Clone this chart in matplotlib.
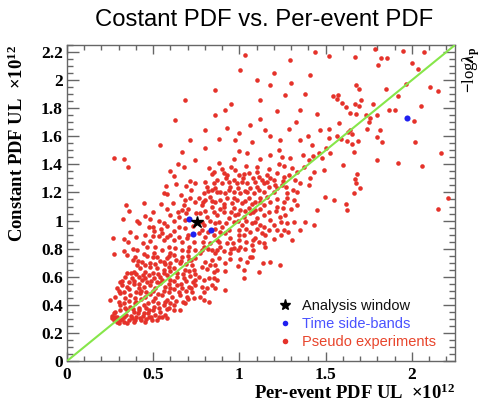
import numpy as np
import matplotlib
matplotlib.use('Agg')
import matplotlib.pyplot as plt
from matplotlib.ticker import MultipleLocator, FuncFormatter
from matplotlib.lines import Line2D

plt.rcParams['mathtext.fontset'] = 'custom'
plt.rcParams['mathtext.rm'] = 'Liberation Serif:bold'
plt.rcParams['mathtext.it'] = 'Liberation Serif:italic:bold'
plt.rcParams['mathtext.bf'] = 'Liberation Serif:bold'

# pseudo experiments (per-event UL, constant UL), units of 1e12
pseudo_pts = [
    # upper right
    (1.523, 1.479), (1.663, 1.491), (1.601, 1.396), (1.798, 1.432), (1.920, 1.413),
    (2.057, 1.391), (2.169, 1.479), (1.680, 1.330), (1.672, 1.296), (1.676, 1.266),
    (1.697, 1.235), (1.667, 1.199), (1.551, 1.147), (1.616, 1.121), (1.624, 1.076),
    (2.210, 1.164), (2.150, 1.080),
    (1.784, 2.218), (1.947, 2.208), (2.073, 2.199), (1.518, 2.173), (1.672, 2.161),
    (1.821, 2.156), (1.854, 2.156), (1.804, 2.106), (2.003, 2.120), (2.036, 2.082),
    (1.968, 1.973), (1.850, 1.935), (2.104, 1.952), (2.150, 1.923), (1.678, 1.964),
    (1.692, 1.940), (1.545, 1.888), (1.572, 1.895), (1.564, 1.869), (1.705, 1.857),
    (1.920, 1.885), (1.593, 1.836), (1.616, 1.807), (1.668, 1.831), (1.696, 1.817),
    (1.773, 1.833), (2.053, 1.817), (1.866, 1.788), (1.900, 1.788), (1.639, 1.764),
    (1.678, 1.760), (1.736, 1.752), (1.800, 1.755), (1.755, 1.733), (1.750, 1.700),
    (2.013, 1.710), (1.578, 1.695), (1.639, 1.646), (1.630, 1.629), (1.653, 1.615),
    (1.742, 1.655), (1.817, 1.646), (1.522, 1.650), (1.566, 1.605), (1.587, 1.584),
    (1.798, 1.596), (1.518, 1.591), (1.624, 1.563), (1.688, 1.563), (1.655, 1.544),
    (1.827, 1.560), (2.020, 1.558),
    # top middle / top left
    (0.858, 1.930), (0.916, 1.788), (1.003, 2.073), (1.061, 1.681), (1.119, 1.859),
    (1.177, 1.966), (1.236, 1.574), (1.294, 2.144), (1.351, 1.788), (1.409, 2.037),
    (1.467, 1.645), (0.974, 1.574), (0.800, 1.645), (1.032, 2.179), (1.148, 1.645),
    (1.351, 1.574), (1.264, 1.895), (0.713, 1.574), (0.626, 1.716), (0.684, 1.859),
    (0.539, 1.538),
    (0.80, 1.52), (0.88, 1.58), (0.93, 1.66), (1.00, 1.62), (1.07, 1.56),
    (1.12, 1.72), (1.18, 1.60), (1.22, 1.78), (1.29, 1.65), (1.33, 1.70),
    (1.40, 1.60), (1.45, 1.76), (1.38, 1.90), (1.30, 1.98), (1.20, 2.05),
    (1.10, 2.00), (0.95, 1.83), (0.86, 1.75), (1.44, 2.20), (1.50, 1.52),
    (1.42, 1.54), (1.46, 1.48),
    # middle left
    (0.271, 1.446), (0.333, 1.439), (0.352, 1.380), (0.667, 1.491), (0.741, 1.432),
    (0.644, 1.403), (0.597, 1.353), (0.574, 1.247), (0.632, 1.258), (0.690, 1.249),
    (0.715, 1.285), (0.741, 1.270), (0.561, 1.199), (0.578, 1.190), (0.445, 1.128),
    (0.342, 1.111), (0.358, 1.069), (0.547, 1.116), (0.617, 1.126), (0.683, 1.147),
    (0.677, 1.111), (0.715, 1.159), (0.741, 1.135), (0.667, 1.076), (0.642, 1.061),
    (0.692, 1.052), (0.748, 1.057), (0.323, 1.012), (0.406, 1.000), (0.483, 1.012),
    (0.532, 1.000), (0.623, 1.000), (0.648, 1.028), (0.683, 1.004), (0.478, 0.957),
    (0.499, 0.957), (0.507, 0.928), (0.545, 0.940), (0.578, 0.959), (0.619, 0.928),
    (0.648, 0.952), (0.686, 0.945), (0.367, 0.917), (0.265, 0.874), (0.329, 0.867),
    (0.354, 0.850), (0.441, 0.838), (0.479, 0.857), (0.532, 0.890), (0.561, 0.862),
    (0.580, 0.886), (0.619, 0.862), (0.648, 0.886), (0.667, 0.850), (0.696, 0.874),
    (0.735, 0.850), (0.406, 0.791), (0.464, 0.814), (0.512, 0.814), (0.551, 0.791),
    (0.590, 0.814), (0.628, 0.803), (0.667, 0.791), (0.706, 0.814), (0.744, 0.791),
    (0.275, 0.762), (0.503, 0.772), (0.445, 0.762),
    (0.40, 0.88), (0.45, 0.90), (0.50, 0.89), (0.55, 0.91), (0.60, 0.90),
    (0.70, 0.90), (0.42, 0.98), (0.56, 0.98), (0.60, 1.04), (0.70, 1.08),
    (0.50, 1.06), (0.45, 1.03), (0.38, 0.80), (0.33, 0.78), (0.60, 0.77),
    (0.70, 0.78), (0.73, 0.96), (0.58, 1.08), (0.66, 1.18), (0.72, 1.22),
    (0.62, 1.32), (0.68, 1.38),
    # centre
    (0.996, 1.496), (1.044, 1.479), (1.228, 1.503), (1.247, 1.451), (1.295, 1.444),
    (1.369, 1.467), (1.425, 1.460), (1.402, 1.432), (1.479, 1.444), (1.228, 1.403),
    (0.880, 1.413), (0.822, 1.372), (0.851, 1.349), (0.841, 1.332), (0.909, 1.337),
    (0.928, 1.325), (0.976, 1.361), (0.996, 1.325), (1.025, 1.332), (1.054, 1.337),
    (1.102, 1.349), (1.112, 1.313), (1.160, 1.325), (1.179, 1.301), (1.218, 1.337),
    (1.257, 1.313), (1.286, 1.325), (1.305, 1.372), (1.334, 1.349), (1.373, 1.384),
    (1.431, 1.349), (1.489, 1.361), (1.411, 1.301), (1.324, 1.289), (0.802, 1.277),
    (0.812, 1.242), (0.851, 1.266), (0.841, 1.218), (0.899, 1.266), (0.938, 1.277),
    (0.947, 1.242), (0.986, 1.266), (1.015, 1.277), (1.044, 1.266), (1.092, 1.277),
    (1.141, 1.266), (1.160, 1.277), (1.170, 1.242), (1.208, 1.254), (1.247, 1.254),
    (1.276, 1.194), (1.334, 1.206), (1.353, 1.266), (1.402, 1.254), (0.793, 1.194),
    (0.870, 1.206), (0.918, 1.194), (0.967, 1.206), (1.005, 1.194), (1.044, 1.206),
    (1.083, 1.194), (1.112, 1.218), (1.199, 1.206), (0.764, 1.159), (0.802, 1.147),
    (0.831, 1.171), (0.860, 1.135), (0.889, 1.147), (0.928, 1.159), (0.957, 1.123),
    (0.986, 1.147), (1.015, 1.123), (1.054, 1.159), (1.092, 1.135), (1.121, 1.159),
    (1.141, 1.111), (1.179, 1.135), (1.218, 1.099), (1.276, 1.159), (1.315, 1.147),
    (1.334, 1.111), (1.450, 1.076), (1.498, 1.171), (0.783, 1.111), (0.841, 1.099),
    (0.909, 1.099), (0.967, 1.088), (1.005, 1.076), (1.054, 1.088), (1.092, 1.076),
    (0.773, 1.052), (0.812, 1.028), (0.870, 1.040), (0.909, 1.064), (0.938, 1.016),
    (0.976, 1.040), (1.025, 1.028), (1.063, 1.052), (1.102, 1.016), (1.141, 1.040),
    (1.179, 1.004), (1.237, 1.028), (1.266, 1.040), (1.276, 0.981), (1.315, 0.993),
    (1.382, 0.993), (1.431, 0.969), (0.793, 0.969), (0.860, 0.981), (0.899, 0.957),
    (0.967, 0.993), (1.015, 0.969), (1.073, 0.981), (1.141, 0.957), (0.764, 0.910),
    (0.802, 0.886), (0.851, 0.898), (0.870, 0.862), (0.889, 0.921), (0.918, 0.910),
    (0.947, 0.874), (0.996, 0.933), (1.025, 0.898), (1.063, 0.921), (1.092, 0.874),
    (1.131, 0.910), (1.170, 0.933), (1.218, 0.933), (1.257, 0.933), (1.305, 0.862),
    (1.353, 0.933), (0.793, 0.815), (0.841, 0.791), (0.889, 0.815), (0.928, 0.838),
    (0.967, 0.803), (1.005, 0.815), (1.073, 0.826), (1.112, 0.850), (0.773, 0.767),
    (0.860, 0.767), (0.947, 0.767),
    (0.78, 0.79), (0.82, 0.80), (0.87, 0.79), (0.91, 0.78), (0.95, 0.80),
    (0.99, 0.79), (1.03, 0.80), (1.08, 0.79), (1.15, 0.81), (0.79, 0.85),
    (0.83, 0.84), (0.88, 0.85), (0.96, 0.84), (1.00, 0.86), (1.04, 0.85),
    (1.08, 0.86), (1.14, 0.84), (1.20, 0.87), (0.78, 0.93), (0.82, 0.92),
    (0.86, 0.94), (0.94, 0.93), (1.00, 0.90), (1.04, 0.94), (1.10, 0.94),
    (1.15, 0.90), (1.24, 0.90), (1.28, 0.92), (0.78, 0.99), (0.83, 1.00),
    (0.88, 0.99), (0.92, 0.98), (0.99, 1.00), (1.04, 1.00), (1.09, 0.99),
    (1.12, 0.97), (1.20, 0.97), (1.24, 0.99), (0.80, 1.07), (0.85, 1.06),
    (0.89, 1.08), (0.95, 1.06), (0.99, 1.05), (1.03, 1.07), (1.08, 1.06),
    (1.12, 1.08), (1.17, 1.06), (1.21, 1.07), (1.25, 1.09), (1.30, 1.08),
    (0.79, 1.13), (0.84, 1.14), (0.91, 1.12), (0.97, 1.16), (1.03, 1.14),
    (1.07, 1.12), (1.12, 1.13), (1.16, 1.17), (1.22, 1.15), (1.26, 1.13),
    (0.82, 1.21), (0.86, 1.23), (0.89, 1.20), (0.94, 1.22), (0.99, 1.23),
    (1.03, 1.21), (1.06, 1.23), (1.10, 1.24), (1.14, 1.20), (1.22, 1.23),
    (1.27, 1.24), (1.31, 1.22), (0.87, 1.29), (0.92, 1.30), (0.97, 1.29),
    (1.02, 1.30), (1.08, 1.30), (1.13, 1.29), (1.20, 1.29), (1.25, 1.28),
    (0.90, 1.37), (0.95, 1.38), (1.04, 1.39), (1.10, 1.38), (1.17, 1.37),
    (1.26, 1.39), (0.97, 1.44), (1.12, 1.44), (1.18, 1.47),
    # lower left
    (0.348, 0.755), (0.396, 0.743), (0.464, 0.748), (0.522, 0.743), (0.580, 0.731),
    (0.619, 0.755), (0.667, 0.743), (0.706, 0.719), (0.744, 0.731), (0.435, 0.708),
    (0.561, 0.703), (0.657, 0.696), (0.725, 0.684), (0.406, 0.684), (0.425, 0.660),
    (0.454, 0.636), (0.483, 0.672), (0.522, 0.660), (0.561, 0.648), (0.590, 0.672),
    (0.619, 0.660), (0.686, 0.648), (0.735, 0.648), (0.348, 0.624), (0.387, 0.636),
    (0.338, 0.601), (0.377, 0.589), (0.416, 0.601), (0.435, 0.577), (0.474, 0.613),
    (0.506, 0.589), (0.541, 0.601), (0.580, 0.613), (0.599, 0.577), (0.638, 0.601),
    (0.677, 0.589), (0.715, 0.608), (0.744, 0.577), (0.309, 0.565), (0.464, 0.565),
    (0.290, 0.518), (0.319, 0.541), (0.348, 0.530), (0.387, 0.546), (0.416, 0.518),
    (0.445, 0.530), (0.483, 0.541), (0.512, 0.518), (0.541, 0.553), (0.570, 0.530),
    (0.599, 0.518), (0.638, 0.541), (0.667, 0.518), (0.706, 0.530), (0.744, 0.541),
    (0.725, 0.494), (0.280, 0.458), (0.309, 0.482), (0.338, 0.446), (0.367, 0.470),
    (0.396, 0.446), (0.425, 0.482), (0.454, 0.458), (0.483, 0.475), (0.512, 0.446),
    (0.551, 0.470), (0.580, 0.435), (0.609, 0.458), (0.657, 0.470), (0.696, 0.458),
    (0.735, 0.446), (0.251, 0.435), (0.309, 0.399), (0.338, 0.375), (0.367, 0.387),
    (0.396, 0.411), (0.416, 0.375), (0.445, 0.399), (0.474, 0.363), (0.503, 0.387),
    (0.532, 0.375), (0.561, 0.399), (0.590, 0.375), (0.619, 0.399), (0.657, 0.363),
    (0.686, 0.411), (0.387, 0.351), (0.261, 0.304), (0.280, 0.316), (0.290, 0.280),
    (0.309, 0.292), (0.329, 0.316), (0.348, 0.268), (0.377, 0.304), (0.396, 0.292),
    (0.425, 0.304), (0.454, 0.280), (0.474, 0.316), (0.493, 0.292), (0.271, 0.340),
    (0.532, 0.316), (0.580, 0.304), (0.445, 0.340),
    (0.27, 0.29), (0.29, 0.31), (0.30, 0.27), (0.32, 0.30), (0.33, 0.28),
    (0.34, 0.33), (0.36, 0.29), (0.37, 0.32), (0.39, 0.28), (0.40, 0.31),
    (0.41, 0.34), (0.43, 0.29), (0.44, 0.32), (0.46, 0.30), (0.47, 0.34),
    (0.49, 0.31), (0.51, 0.33), (0.52, 0.29), (0.55, 0.31), (0.57, 0.33),
    (0.26, 0.32), (0.28, 0.35), (0.31, 0.36), (0.35, 0.36), (0.38, 0.37),
    (0.42, 0.36), (0.46, 0.38), (0.50, 0.36), (0.54, 0.35), (0.58, 0.37),
    (0.62, 0.36), (0.30, 0.42), (0.33, 0.41), (0.36, 0.43), (0.40, 0.42),
    (0.43, 0.44), (0.47, 0.41), (0.50, 0.43), (0.53, 0.41), (0.57, 0.42),
    (0.60, 0.41), (0.63, 0.43), (0.67, 0.42), (0.70, 0.44),
    (0.30, 0.50), (0.33, 0.49), (0.36, 0.51), (0.40, 0.49), (0.43, 0.50),
    (0.46, 0.49), (0.50, 0.50), (0.53, 0.48), (0.56, 0.50), (0.59, 0.49),
    (0.62, 0.51), (0.65, 0.49), (0.69, 0.50), (0.72, 0.52), (0.32, 0.57),
    (0.36, 0.56), (0.39, 0.57), (0.42, 0.55), (0.45, 0.59), (0.49, 0.57),
    (0.52, 0.56), (0.55, 0.58), (0.59, 0.55), (0.62, 0.57), (0.66, 0.55),
    (0.69, 0.57), (0.73, 0.56), (0.37, 0.63), (0.40, 0.62), (0.44, 0.61),
    (0.50, 0.63), (0.53, 0.62), (0.56, 0.63), (0.60, 0.64), (0.64, 0.63),
    (0.67, 0.62), (0.71, 0.64), (0.74, 0.62), (0.41, 0.71), (0.45, 0.68),
    (0.48, 0.70), (0.51, 0.69), (0.54, 0.71), (0.57, 0.69), (0.60, 0.70),
    (0.63, 0.72), (0.66, 0.71), (0.69, 0.69), (0.72, 0.72), (0.38, 0.72),
    (0.50, 0.74), (0.59, 0.75), (0.70, 0.75),
    # lower middle
    (0.802, 0.708), (0.841, 0.719), (0.831, 0.684), (0.860, 0.684), (0.870, 0.648),
    (0.783, 0.672), (0.812, 0.655), (0.851, 0.636), (0.880, 0.731), (0.914, 0.696),
    (0.947, 0.727), (1.005, 0.727), (1.063, 0.743), (1.073, 0.743), (1.044, 0.708),
    (0.990, 0.679), (1.025, 0.648), (0.918, 0.641), (1.112, 0.636), (1.135, 0.696),
    (1.179, 0.703), (1.237, 0.684), (0.764, 0.601), (0.797, 0.577), (0.822, 0.589),
    (0.851, 0.589), (0.870, 0.577), (0.783, 0.530), (0.812, 0.518), (0.841, 0.541),
    (0.860, 0.518), (0.918, 0.506), (0.793, 0.489), (0.773, 0.458), (0.797, 0.434),
    (0.822, 0.423), (1.025, 0.594),
]

# time side-bands
side_x = [0.709, 0.729, 0.834, 1.970]
side_y = [1.009, 0.902, 0.933, 1.729]

# analysis window
ana_x = [0.752]
ana_y = [0.992]

diag = [0.0, 2.25]

pe = np.array(pseudo_pts)

fig = plt.figure(figsize=(4.87, 4.03), dpi=100)
ax = fig.add_axes([67 / 487, 42 / 403, 388 / 487, 316 / 403])

red = '#e5322a'
ax.plot(pe[:, 0], pe[:, 1], 'o', ms=3.3, color=red, mec='none', zorder=2)
ax.plot(diag, diag, color='#86e64a', lw=1.5, zorder=3)
ax.plot(side_x, side_y, 'o', ms=4.4, color='#2020f0', mec='none', zorder=4)
ax.plot(ana_x, ana_y, '*', ms=9, color='black', mec='black', zorder=5)

ax.set_xlim(0, 2.25)
ax.set_ylim(0, 2.25)

ax.xaxis.set_major_locator(MultipleLocator(0.5))
ax.xaxis.set_minor_locator(MultipleLocator(0.1))
ax.yaxis.set_major_locator(MultipleLocator(0.2))
ax.yaxis.set_minor_locator(MultipleLocator(0.05))
fmt = FuncFormatter(lambda v, p: '%g' % round(v, 2))
ax.xaxis.set_major_formatter(fmt)
ax.yaxis.set_major_formatter(fmt)

tc = '#666666'
ax.tick_params(axis='both', which='both', direction='in', top=True, right=True, color=tc, width=1)
ax.tick_params(axis='x', which='major', length=6.8, pad=4)
ax.tick_params(axis='x', which='minor', length=3.4)
ax.tick_params(axis='y', which='major', length=8.4, pad=3)
ax.tick_params(axis='y', which='minor', length=4.2)
for s in ax.spines.values():
    s.set_color(tc)
    s.set_linewidth(1)

for lab in ax.get_xticklabels() + ax.get_yticklabels():
    lab.set_fontfamily('Liberation Serif')
    lab.set_fontweight('bold')
    lab.set_fontsize(12.5)

ax.set_xlabel(r'Per-event PDF UL  $\times10^{12}$', loc='right',
              family='Liberation Serif', weight='bold', fontsize=13.4)
ax.xaxis.set_label_coords(1.0, -0.072)
ax.set_ylabel(r'Constant PDF UL  $\times10^{12}$', loc='top',
              family='Liberation Serif', weight='bold', fontsize=13.4)
ax.yaxis.set_label_coords(-0.104, 1.0)

fig.text(0.543, 0.950, 'Costant PDF vs. Per-event PDF', ha='center', va='center',
         family='Liberation Sans', fontsize=17.2)
fig.text(0.968, 0.826, r'$-$log$\lambda_{\rm p}$', rotation=90, ha='center', va='center',
         family='Liberation Serif', fontsize=12)

handles = [
    Line2D([], [], ls='none', marker='*', ms=8, color='black'),
    Line2D([], [], ls='none', marker='o', ms=4, color='#2020f0', mec='none'),
    Line2D([], [], ls='none', marker='o', ms=4, color=red, mec='none'),
]
leg = ax.legend(handles, ['Analysis window', 'Time side-bands', 'Pseudo experiments'],
                loc='upper left', bbox_to_anchor=(0.543, 0.197), frameon=False,
                borderpad=0, borderaxespad=0, handlelength=1.0, handletextpad=0.7,
                labelspacing=0.3, prop={'family': 'Liberation Sans', 'size': 10.5})
for t, c in zip(leg.get_texts(), ['#111111', '#4a52ff', '#e8452c']):
    t.set_color(c)

fig.savefig('out.png', dpi=100)
